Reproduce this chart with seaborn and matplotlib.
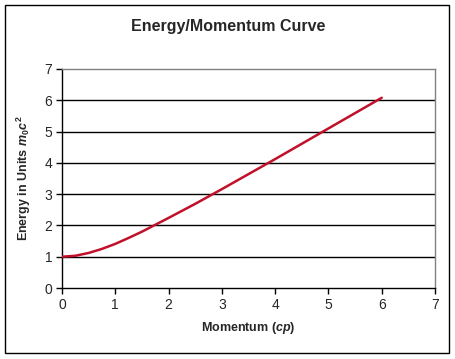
import matplotlib
matplotlib.use("Agg")
from matplotlib import pyplot as plt
from matplotlib.patches import Rectangle
import seaborn as sns
import pandas as pd

# values
momentum = [0, 0.25, 0.5, 0.75, 1, 1.25, 1.5, 1.75, 2, 2.5, 3, 3.5, 4, 4.5, 5, 5.5, 6]
energy = [1.0, 1.03, 1.12, 1.25, 1.41, 1.60, 1.80, 2.02, 2.24, 2.69, 3.16,
          3.64, 4.12, 4.61, 5.10, 5.59, 6.08]
xticks = [0, 1, 2, 3, 4, 5, 6, 7]
yticks = [0, 1, 2, 3, 4, 5, 6, 7]

df = pd.DataFrame({"p": momentum, "E": energy})

sns.set_style("white")
plt.rcParams['font.family'] = ['Liberation Sans', 'DejaVu Sans']
plt.rcParams['mathtext.fontset'] = 'custom'
plt.rcParams['mathtext.it'] = 'Liberation Sans:italic:bold'
plt.rcParams['mathtext.rm'] = 'Liberation Sans:bold'

fig = plt.figure(figsize=(4.56, 3.59), dpi=100)
ax = fig.add_axes([62/456, 1 - 288/359, (435 - 62)/456, (288 - 69)/359])

for y in yticks[1:-1]:
    ax.axhline(y, color='black', lw=1, zorder=1)

sns.lineplot(data=df, x="p", y="E", ax=ax, color='#C0102A', lw=1.8, zorder=3)

ax.set_xlim(0, 7)
ax.set_ylim(0, 7)
ax.set_xticks(xticks)
ax.set_yticks(yticks)
ax.tick_params(axis='both', direction='out', length=4, width=1, color='black',
               labelsize=10, pad=3, bottom=True, left=True)

for s in ['left', 'bottom']:
    ax.spines[s].set_color('black')
    ax.spines[s].set_linewidth(1)
for s in ['top', 'right']:
    ax.spines[s].set_color('#808080')
    ax.spines[s].set_linewidth(1)

ax.set_xlabel("Momentum ($cp$)", fontsize=9, fontweight='bold', labelpad=6)
ax.set_ylabel("Energy in Units $m_0c^2$", fontsize=9, fontweight='bold', labelpad=8)
fig.text(228/456, 1 - 27/359, "Energy/Momentum Curve", ha='center', va='center',
         fontsize=11.5, fontweight='bold')

fig.patches.append(Rectangle((5/456, 1 - 353/359), 444/456, 348/359,
                             transform=fig.transFigure, fill=False,
                             edgecolor='black', lw=1))

fig.savefig("out.png", dpi=100)
